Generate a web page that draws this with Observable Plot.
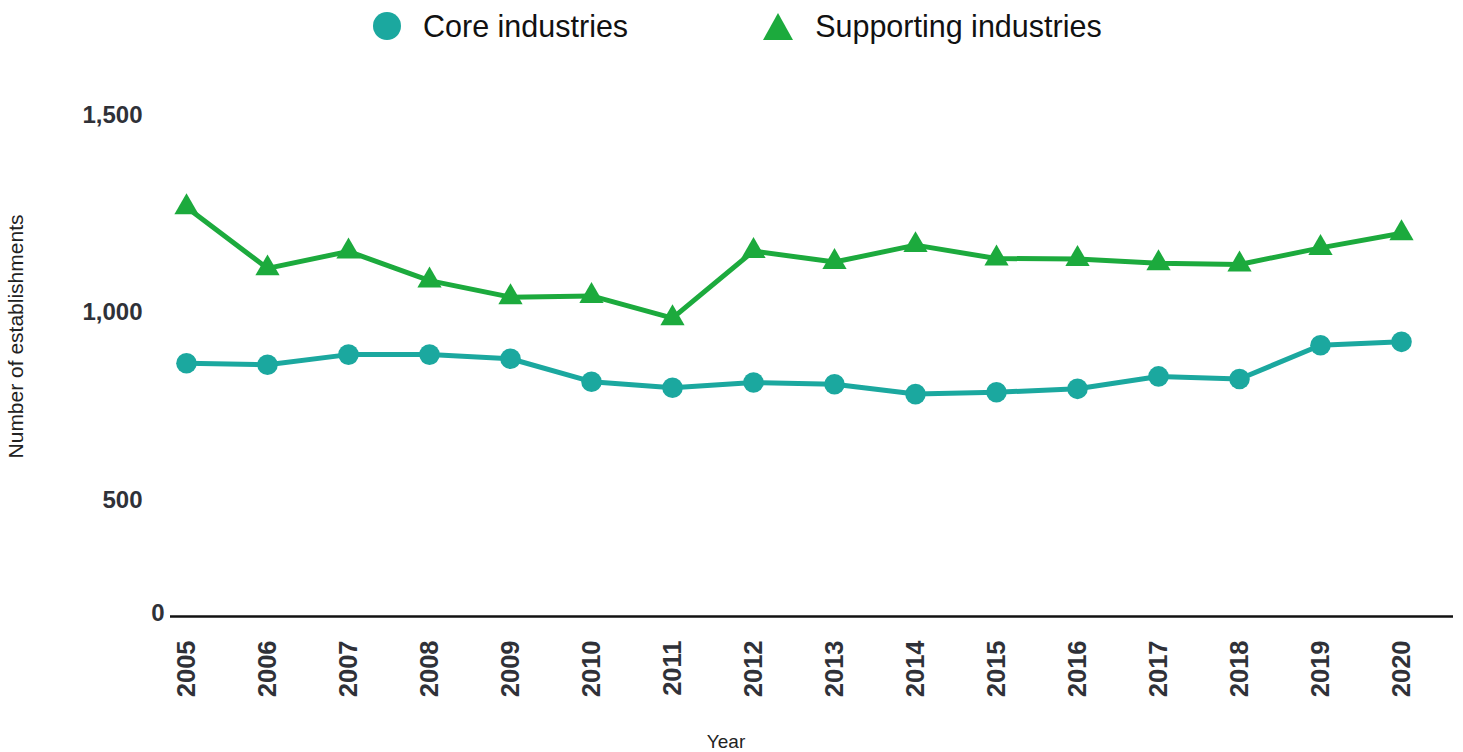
<!DOCTYPE html>
<html>
<head>
<meta charset="utf-8">
<script src="https://cdn.jsdelivr.net/npm/d3@7"></script>
<script src="https://cdn.jsdelivr.net/npm/@observablehq/plot@0.6"></script>
<style>
  html, body { margin: 0; background: #fff; overflow: hidden; font-family: "Liberation Sans", Arial, Helvetica, sans-serif; }
  #legend { height: 52px; display: flex; align-items: center; padding-left: 373px; box-sizing: border-box; }
  .item { display: flex; align-items: center; font-size: 30.5px; color: #111; line-height: 1; }
  .item svg { margin-right: 22px; display: block; }
  .item + .item { margin-left: 135px; }
  #chart svg { display: block; }
</style>
</head>
<body>
<div id="legend"></div>
<div id="chart"></div>
<script>
// Establishments per year, by industry group
const years = [2005, 2006, 2007, 2008, 2009, 2010, 2011, 2012, 2013, 2014, 2015, 2016, 2017, 2018, 2019, 2020];
const core = [865, 861, 888, 888, 877, 816, 800, 814, 809, 783, 788, 797, 830, 823, 913, 922];
const supporting = [1267, 1112, 1155, 1081, 1039, 1042, 985, 1156, 1128, 1171, 1137, 1136, 1125, 1122, 1164, 1201];

const seriesNames = ["Core industries", "Supporting industries"];
const seriesColors = ["#1ba89f", "#1caa3d"];
const seriesSymbols = ["circle", "triangle"];
const yTicks = [500, 1000, 1500];
const yBase = [0];
const xTitle = "Year";
const yTitle = "Number of establishments";

// long-format rows for the line and dot marks
const rows = years.flatMap((year, i) => [
  {year, value: core[i], series: seriesNames[0]},
  {year, value: supporting[i], series: seriesNames[1]}
]);

// legend above the chart
const legend = document.getElementById("legend");
seriesNames.forEach((name, i) => {
  const item = document.createElement("div");
  item.className = "item";
  const shape = seriesSymbols[i] === "circle"
    ? `<svg width="28" height="28"><circle cx="14" cy="14" r="14" fill="${seriesColors[i]}"/></svg>`
    : `<svg width="30" height="27"><polygon points="15,0 30,27 0,27" fill="${seriesColors[i]}"/></svg>`;
  item.innerHTML = shape + `<span>${name}</span>`;
  legend.appendChild(item);
});

// the value axis is stretched unevenly: the band below 500 is compressed,
// so values pass through a piecewise stretch before the linear y scale
const stretch = d3.scaleLinear().domain([0, 500, 1000, 1500]).range([0, 116, 304, 501]);
const fmt = d3.format(",d");

const tickStyle = {tickSize: 0, fontWeight: "bold", fill: "#2f3138", label: null};

const chart = Plot.plot({
  width: 1463,
  height: 700,
  marginTop: 4,
  marginBottom: 136,
  marginLeft: 170,
  marginRight: 10,
  style: {fontFamily: "Liberation Sans, Arial, Helvetica, sans-serif", background: "#fff"},
  x: {type: "point", domain: years, range: [181.5, 1405], padding: 0},
  y: {transform: stretch, domain: [0, 501], range: [564, 63]},
  marks: [
    Plot.axisY(yTicks, {...tickStyle, tickPadding: 28, fontSize: 24, tickFormat: fmt}),
    Plot.axisY(yBase, {...tickStyle, tickPadding: 6, fontSize: 24, dy: -3, tickFormat: fmt}),
    Plot.axisX(years, {...tickStyle, tickPadding: 24, tickRotate: -90, fontSize: 25.5, tickFormat: d => String(d)}),
    Plot.ruleY(yBase, {stroke: "#111", strokeWidth: 2.5}),
    Plot.line(rows, {x: "year", y: "value", z: "series", stroke: d => seriesColors[seriesNames.indexOf(d.series)], strokeWidth: 5}),
    Plot.dot(rows.filter(d => d.series === seriesNames[0]), {x: "year", y: "value", symbol: () => seriesSymbols[0], fill: seriesColors[0], r: 10.3}),
    Plot.dot(rows.filter(d => d.series === seriesNames[1]), {x: "year", y: "value", symbol: () => seriesSymbols[1], fill: seriesColors[1], r: 9}),
    Plot.text([yTitle], {frameAnchor: "left", textAnchor: "middle", lineAnchor: "middle", rotate: -90, dx: -154, fontSize: 21, fill: "#222"}),
    Plot.text([xTitle], {frameAnchor: "bottom", textAnchor: "middle", lineAnchor: "middle", dx: -86, dy: 125, fontSize: 19, fill: "#222"})
  ]
});
document.getElementById("chart").appendChild(chart);
</script>
</body>
</html>
